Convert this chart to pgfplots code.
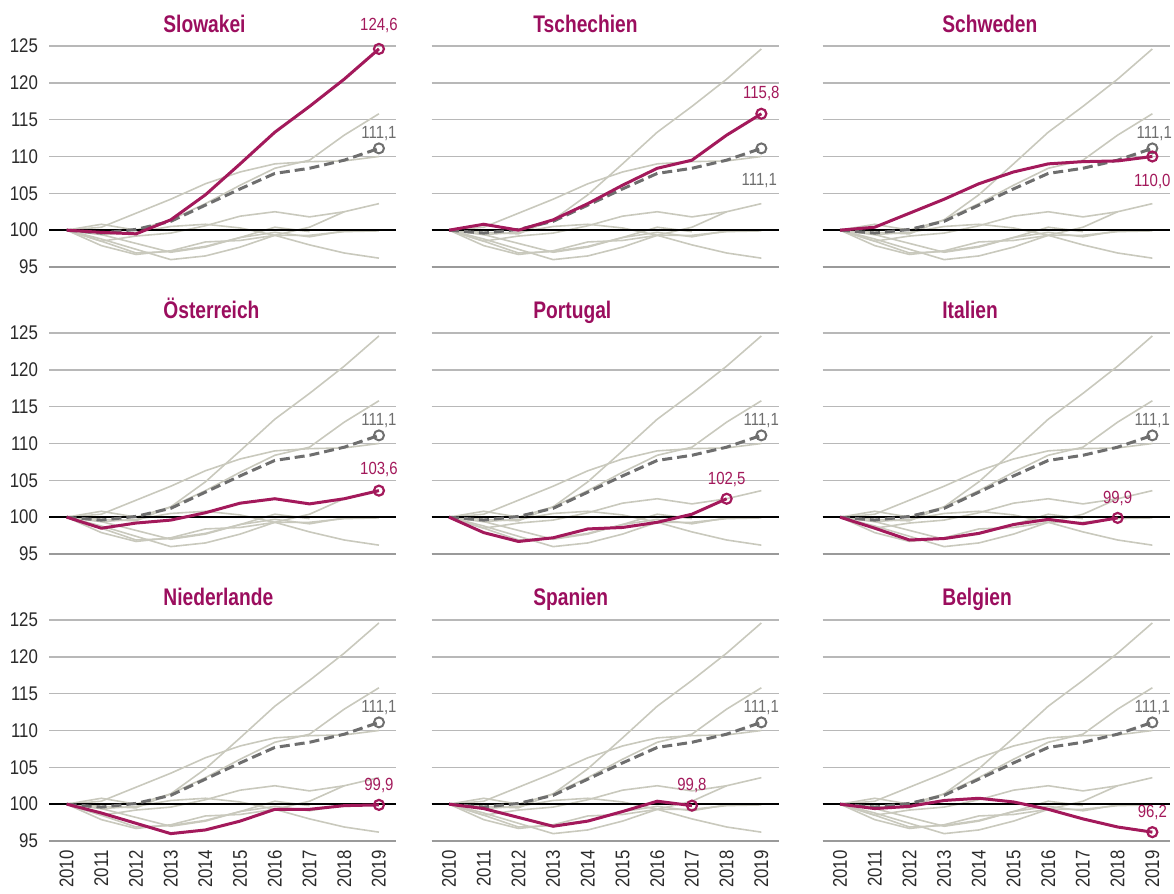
\documentclass[border=0pt]{standalone}
\usepackage{fontspec}
\setmainfont{Liberation Sans}[FakeStretch=0.85]
\newfontfamily\titlefont{Liberation Sans}[FakeStretch=0.8]
\usepackage{pgfplots}
\usepackage{pgfplotstable}
\pgfplotsset{compat=1.18}

\definecolor{mag}{HTML}{A3195B}
\definecolor{magt}{HTML}{9B0E5E}
\definecolor{lgray}{HTML}{C9C9BD}
\definecolor{dgray}{HTML}{6E6E6E}
\definecolor{cgrid}{HTML}{B8B8B8}
\definecolor{cbase}{HTML}{9A9A9A}
\definecolor{ticktext}{HTML}{2A2A2A}

% index 2010 = 100
\pgfplotstableread{
year SK    CZ    SE    AT    PT    IT    NL    ES    BE    AVG
2010 100   100   100   100   100   100   100   100   100   100
2011 99.7  100.8 100.4 98.5  97.9  98.5  98.8  99.4  99.4  99.6
2012 99.5  100.0 102.3 99.2  96.7  96.9  97.4  98.2  99.7  100.1
2013 101.4 101.4 104.2 99.6  97.2  97.1  96.0  97.0  100.5 101.2
2014 104.8 103.6 106.3 100.6 98.4  97.8  96.5  97.7  100.8 103.4
2015 109.0 106.1 107.9 101.9 98.6  99.0  97.7  99.0  100.3 105.6
2016 113.3 108.4 109.0 102.5 99.3  99.7  99.3  100.4 99.3  107.7
2017 116.8 109.5 109.3 101.8 100.4 99.1  99.3  99.8  98.0  108.4
2018 120.5 112.9 109.4 102.5 102.5 99.9  99.8  nan   96.9  109.5
2019 124.6 115.8 110.0 103.6 nan   nan   99.9  nan   96.2  111.1
}\data

\pgfplotsset{
  panel/.style={
    scale only axis, width=173.5pt, height=110.5pt,
    anchor=south west, clip=false,
    xmin=2009.5, xmax=2019.5, ymin=95, ymax=125,
    axis x line=bottom, axis y line=left,
    x axis line style={draw=cbase, line width=1pt, -},
    y axis line style={draw=none},
    xtick={2010,...,2019}, ytick={95,100,...,125},
    major tick length=0pt,
    ymajorgrids, grid style={draw=cgrid, line width=0.7pt},
    tick label style={text=ticktext, font=\fontsize{9.9}{10}\selectfont, inner sep=0pt},
    /pgf/number format/assume math mode=true,
    /pgf/number format/1000 sep={},
    yticklabel shift=5.5pt, xticklabel shift=4.5pt,
    xticklabels={}, yticklabels={},
  },
  ylab/.style={yticklabels={95,100,105,110,115,120,125}},
  xlab/.style={xticklabels={2010,2011,2012,2013,2014,2015,2016,2017,2018,2019},
    xticklabel style={rotate=90, anchor=east}},
  grayline/.style={lgray, line width=0.8pt, no marks},
  avgline/.style={dgray, line width=1.5pt, dash pattern=on 5pt off 2.5pt, no marks},
  avgmark/.style={only marks, mark=o, mark size=2.5pt, mark options={draw=dgray, fill=white, line width=1pt}},
  hlline/.style={mag, line width=1.5pt, no marks},
  hlmark/.style={only marks, mark=o, mark size=2.5pt, mark options={draw=mag, fill=white, line width=1.1pt}},
}
\tikzset{
  mval/.style={text=mag, font=\fontsize{8.8}{9}\selectfont, inner sep=0.5pt},
  aval/.style={text=dgray, font=\fontsize{8.8}{9}\selectfont, inner sep=0.5pt},
  ptitle/.style={anchor=base west, inner sep=0pt, text=magt, font=\titlefont\fontsize{12}{12}\selectfont\bfseries},
}

\newcommand{\bg}{%
  \pgfplotsinvokeforeach{SK,CZ,SE,AT,PT,IT,NL,ES,BE}{%
    \addplot[grayline] table[x=year, y=##1] {\data};}
  \draw[black, line width=1.1pt] (axis cs:2009.5,100) -- (axis cs:2019.5,100);
  \addplot[avgline] table[x=year, y=AVG] {\data};
  \addplot[avgmark] table[x=year, y=AVG, restrict x to domain=2019:2019] {\data};
}
\newcommand{\hl}[2]{%
  \addplot[hlline] table[x=year, y=#1] {\data};
  \addplot[hlmark] table[x=year, y=#1, restrict x to domain=#2:#2] {\data};
}

\begin{document}
\begin{tikzpicture}
\useasboundingbox (0,0) rectangle (587pt,447pt);

% row 1
\begin{axis}[panel, ylab, at={(24.65pt,313.5pt)}]
\bg
\hl{SK}{2019}
\node[mval, anchor=south] at ([yshift=7.5pt]axis cs:2019,124.6) {124,6};
\node[aval, anchor=south] at ([yshift=3.2pt]axis cs:2019,111.1) {111,1};
\end{axis}
\begin{axis}[panel, at={(215.85pt,313.5pt)}]
\bg
\hl{CZ}{2019}
\node[mval, anchor=south] at ([yshift=6pt]axis cs:2019,115.8) {115,8};
\node[aval, anchor=north] at ([xshift=-1pt, yshift=-12pt]axis cs:2019,111.1) {111,1};
\end{axis}
\begin{axis}[panel, at={(411.35pt,313.5pt)}]
\bg
\hl{SE}{2019}
\node[mval, anchor=north] at ([yshift=-8pt]axis cs:2019,110.0) {110,0};
\node[aval, anchor=south] at ([xshift=1pt, yshift=3.2pt]axis cs:2019,111.1) {111,1};
\end{axis}

% row 2
\begin{axis}[panel, ylab, at={(24.65pt,170pt)}]
\bg
\hl{AT}{2019}
\node[mval, anchor=south] at ([yshift=6pt]axis cs:2019,103.6) {103,6};
\node[aval, anchor=south] at ([yshift=3.2pt]axis cs:2019,111.1) {111,1};
\end{axis}
\begin{axis}[panel, at={(215.85pt,170pt)}]
\bg
\hl{PT}{2018}
\node[mval, anchor=south] at ([yshift=5.5pt]axis cs:2018,102.5) {102,5};
\node[aval, anchor=south] at ([yshift=3.2pt]axis cs:2019,111.1) {111,1};
\end{axis}
\begin{axis}[panel, at={(411.35pt,170pt)}]
\bg
\hl{IT}{2018}
\node[mval, anchor=south] at ([yshift=5.5pt]axis cs:2018,99.9) {99,9};
\node[aval, anchor=south] at ([yshift=3.2pt]axis cs:2019,111.1) {111,1};
\end{axis}

% row 3
\begin{axis}[panel, ylab, xlab, at={(24.65pt,26.5pt)}]
\bg
\hl{NL}{2019}
\node[mval, anchor=south] at ([yshift=5.5pt]axis cs:2019,99.9) {99,9};
\node[aval, anchor=south] at ([yshift=3.2pt]axis cs:2019,111.1) {111,1};
\end{axis}
\begin{axis}[panel, xlab, at={(215.85pt,26.5pt)}]
\bg
\hl{ES}{2017}
\node[mval, anchor=south] at ([yshift=5.5pt]axis cs:2017,99.8) {99,8};
\node[aval, anchor=south] at ([yshift=3.2pt]axis cs:2019,111.1) {111,1};
\end{axis}
\begin{axis}[panel, xlab, at={(411.35pt,26.5pt)}]
\bg
\hl{BE}{2019}
\node[mval, anchor=south] at ([yshift=5.5pt]axis cs:2019,96.2) {96,2};
\node[aval, anchor=south] at ([yshift=3.2pt]axis cs:2019,111.1) {111,1};
\end{axis}

% panel titles
\node[ptitle] at (81.5pt,430.5pt) {Slowakei};
\node[ptitle] at (266.5pt,430.5pt) {Tschechien};
\node[ptitle] at (471pt,430.5pt) {Schweden};
\node[ptitle] at (81.5pt,287.5pt) {Österreich};
\node[ptitle] at (266.5pt,287.5pt) {Portugal};
\node[ptitle] at (471pt,287.5pt) {Italien};
\node[ptitle] at (81.5pt,144pt) {Niederlande};
\node[ptitle] at (266.5pt,144pt) {Spanien};
\node[ptitle] at (471pt,144pt) {Belgien};
\end{tikzpicture}
\end{document}
